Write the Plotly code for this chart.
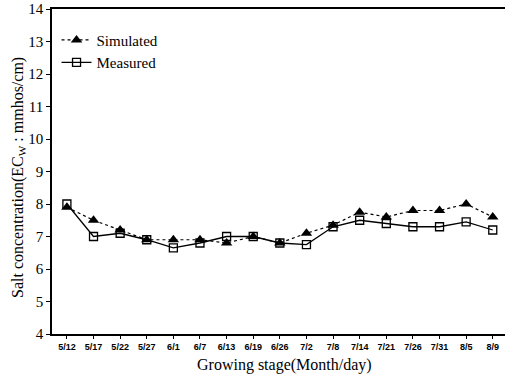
import plotly.graph_objects as go

dates = ["5/12", "5/17", "5/22", "5/27", "6/1", "6/7", "6/13", "6/19", "6/26",
         "7/2", "7/8", "7/14", "7/21", "7/26", "7/31", "8/5", "8/9"]
simulated = [7.9, 7.5, 7.2, 6.9, 6.9, 6.9, 6.8, 7.0, 6.8,
             7.1, 7.35, 7.75, 7.6, 7.8, 7.8, 8.0, 7.6]
measured = [8.0, 7.0, 7.1, 6.9, 6.65, 6.8, 7.0, 7.0, 6.8,
            6.75, 7.3, 7.5, 7.4, 7.3, 7.3, 7.45, 7.2]
yticks = list(range(4, 15))

x_idx = list(range(len(dates)))

fig = go.Figure()
fig.add_trace(go.Scatter(
    x=x_idx, y=simulated, name="Simulated", mode="lines+markers",
    line=dict(color="black", width=1.2, dash="dot"),
    marker=dict(symbol="triangle-up", size=10, color="black"),
))
fig.add_trace(go.Scatter(
    x=x_idx, y=measured, name="Measured", mode="lines+markers",
    line=dict(color="black", width=1.3),
    marker=dict(symbol="square-open", size=8, color="black", line=dict(width=1.3)),
))

fig.update_layout(
    width=505, height=377,
    margin=dict(l=52, r=0, t=9, b=43, autoexpand=False),
    paper_bgcolor="white", plot_bgcolor="white",
    font=dict(family="Liberation Serif", color="black", size=14),
    showlegend=True,
    legend=dict(x=0.01, y=0.955, xanchor="left", yanchor="top",
                bgcolor="rgba(0,0,0,0)", font=dict(size=15, family="Liberation Serif"),
                itemwidth=30, tracegroupgap=0),
    xaxis=dict(
        range=[-0.56, 16.46], tickmode="array", tickvals=x_idx, ticktext=dates,
        showline=True, linecolor="black", linewidth=1.5, mirror=True,
        ticks="outside", ticklen=3, tickcolor="black", showgrid=False, zeroline=False,
        tickfont=dict(family="Liberation Sans", size=9, weight="bold"),
        automargin=False,
    ),
    yaxis=dict(
        range=[4, 14], tickmode="array", tickvals=yticks,
        showline=True, linecolor="black", linewidth=1.5,
        ticks="outside", ticklen=4, tickcolor="black", showgrid=False, zeroline=False,
        tickfont=dict(family="Liberation Serif", size=15),
        automargin=False,
    ),
    annotations=[
        dict(text="Growing stage(Month/day)", xref="paper", yref="paper",
             x=(284 - 52) / 453, y=-(365 - 334) / 325, xanchor="center", yanchor="middle",
             showarrow=False, font=dict(size=16, family="Liberation Serif")),
        dict(text="Salt concentration(EC<sub>W</sub> : mmhos/cm)", xref="paper", yref="paper",
             x=-(52 - 18) / 453, y=(334 - 178) / 325, xanchor="center", yanchor="middle",
             textangle=-90, showarrow=False, font=dict(size=16, family="Liberation Serif")),
    ],
)

fig.write_html(
    "out.html",
    config={"displayModeBar": False},
    post_script="document.body.style.margin='0';document.body.style.overflow='hidden';",
)
